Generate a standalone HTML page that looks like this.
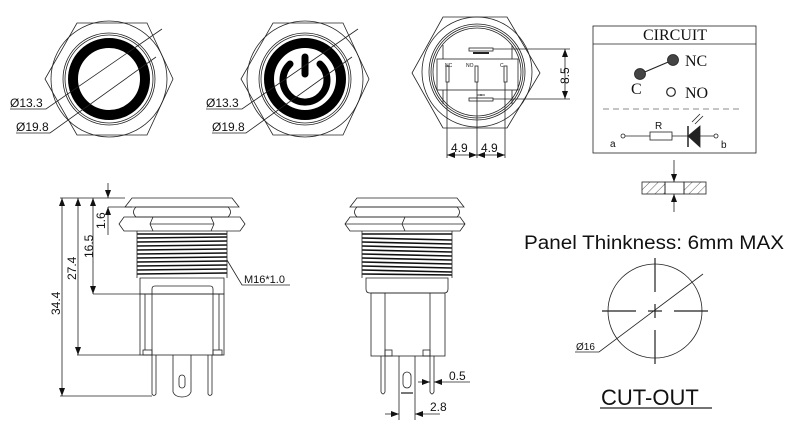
<!DOCTYPE html>
<html><head><style>
html,body{margin:0;padding:0;background:#fff;}
svg{display:block;}
text{font-family:"Liberation Sans",sans-serif;fill:#111;}
.s{font-family:"Liberation Serif",serif;}
</style></head><body>
<svg width="806" height="443" viewBox="0 0 806 443" xmlns="http://www.w3.org/2000/svg">
<defs>
<marker id="ar" markerWidth="8" markerHeight="6" refX="8" refY="3" orient="auto" markerUnits="userSpaceOnUse"><path d="M0,0 L8,3 L0,6 z" fill="#111"/></marker>
<pattern id="hatch" width="6" height="6" patternUnits="userSpaceOnUse" patternTransform="rotate(45)"><line x1="0" y1="0" x2="0" y2="6" stroke="#333" stroke-width="0.8"/></pattern>
</defs>
<g fill="none" stroke="#222" stroke-width="0.8">
<g id="f1">
<polygon points="77,23 147,23 173,79 147,135 77,135 45,79"/>
<circle cx="109" cy="79" r="58"/>
<circle cx="109" cy="79" r="46"/>
<circle cx="109" cy="79" r="44"/>
<circle cx="109" cy="79" r="36" stroke="#000" stroke-width="10"/>
<polyline points="10,109 46,109 162,29"/>
<polyline points="16,133 50,133 156,57"/>
</g>
<text x="10" y="107" font-size="12" stroke="none">Ø13.3</text>
<text x="16" y="131" font-size="12" stroke="none">Ø19.8</text>
<g transform="translate(196,0)">
<polygon points="77,23 147,23 173,79 147,135 77,135 45,79"/>
<circle cx="109" cy="79" r="58"/>
<circle cx="109" cy="79" r="46"/>
<circle cx="109" cy="79" r="44"/>
<circle cx="109" cy="79" r="36" stroke="#000" stroke-width="10"/>
<path d="M94,64 A22,22 0 1 0 124,64" stroke="#000" stroke-width="7" stroke-linecap="round"/>
<line x1="109" y1="57" x2="109" y2="74" stroke="#000" stroke-width="7" stroke-linecap="round"/>
<polyline points="10,109 46,109 162,29"/>
<polyline points="16,133 50,133 156,57"/>
</g>
<text x="206" y="107" font-size="12" stroke="none">Ø13.3</text>
<text x="212" y="131" font-size="12" stroke="none">Ø19.8</text>
<polygon points="443,17 507,17 540,73 507,128 443,128 412,73"/>
<circle cx="477" cy="72" r="55"/>
<circle cx="477" cy="72" r="48"/>
<circle cx="477" cy="72" r="46"/>
<circle cx="477" cy="72" r="44"/>
<rect x="437" y="59" width="81" height="31"/>
<line x1="443" y1="45" x2="443" y2="59"/><line x1="512" y1="45" x2="512" y2="59"/>
<line x1="443" y1="90" x2="443" y2="104"/><line x1="512" y1="90" x2="512" y2="104"/>
<rect x="469" y="48" width="24" height="3"/>
<rect x="469" y="98" width="24" height="3"/>
<line x1="473" y1="53" x2="489" y2="53" stroke-width="2"/>
<line x1="481" y1="94" x2="481" y2="96"/><line x1="477" y1="95" x2="485" y2="95"/>
<rect x="446" y="66" width="3" height="16"/>
<rect x="475" y="66" width="3" height="16"/>
<rect x="504" y="66" width="3" height="16"/>
<line x1="493" y1="49" x2="570" y2="49"/>
<line x1="493" y1="99" x2="570" y2="99"/>
<line x1="565" y1="74" x2="565" y2="49" marker-end="url(#ar)"/>
<line x1="565" y1="74" x2="565" y2="99" marker-end="url(#ar)"/>
<line x1="447" y1="82" x2="447" y2="158"/>
<line x1="477" y1="82" x2="477" y2="158"/>
<line x1="505" y1="82" x2="505" y2="158"/>
<line x1="462" y1="155" x2="447" y2="155" marker-end="url(#ar)"/>
<line x1="462" y1="155" x2="477" y2="155" marker-end="url(#ar)"/>
<line x1="491" y1="155" x2="477" y2="155" marker-end="url(#ar)"/>
<line x1="491" y1="155" x2="505" y2="155" marker-end="url(#ar)"/>
<rect x="593" y="26" width="163" height="127"/>
<line x1="593" y1="44" x2="756" y2="44"/>
<line x1="640" y1="74" x2="673" y2="60" stroke-width="1.2"/>
<circle cx="640" cy="74" r="5.5" fill="#444"/>
<circle cx="673" cy="60" r="5.5" fill="#444"/>
<circle cx="671" cy="92" r="4.3" stroke-width="1.2"/>
<line x1="603" y1="109" x2="742" y2="109" stroke="#666" stroke-dasharray="6,4"/>
<circle cx="623" cy="136" r="2"/>
<line x1="625" y1="136" x2="650" y2="136"/>
<rect x="650" y="132" width="22" height="8"/>
<line x1="672" y1="136" x2="714" y2="136"/>
<circle cx="716" cy="136" r="2"/>
<line x1="688" y1="126" x2="688" y2="147" stroke-width="1.5"/>
<polygon points="688,136 700,126 700,147" fill="#222"/>
<line x1="692" y1="122" x2="700" y2="114"/><line x1="695" y1="124" x2="703" y2="116"/>
<rect x="642" y="182" width="23" height="12" fill="url(#hatch)"/>
<rect x="665" y="182" width="19" height="12"/>
<rect x="684" y="182" width="22" height="12" fill="url(#hatch)"/>
<line x1="674" y1="160" x2="674" y2="182" marker-end="url(#ar)"/>
<line x1="674" y1="212" x2="674" y2="194" marker-end="url(#ar)"/>
<circle cx="655" cy="311" r="47"/>
<line x1="602" y1="311" x2="636" y2="311" stroke-width="1.2"/>
<line x1="648" y1="311" x2="662" y2="311" stroke-width="1.2"/>
<line x1="674" y1="311" x2="708" y2="311" stroke-width="1.2"/>
<line x1="655" y1="258" x2="655" y2="292" stroke-width="1.2"/>
<line x1="655" y1="304" x2="655" y2="318" stroke-width="1.2"/>
<line x1="655" y1="330" x2="655" y2="364" stroke-width="1.2"/>
<polyline points="575,352 599,352 703,274"/>
<line x1="600" y1="408" x2="712" y2="408" stroke-width="1.2"/>
<path d="M125,207 L132,198 L232,198 L239,207 Z"/>
<path d="M136,207 L228,207 Q233,212 228,217 L136,217 Q131,212 136,207 Z"/>
<path d="M119,224 L124,217 L240,217 L245,224 L240,231 L124,231 Z"/>
<line x1="153" y1="217" x2="150" y2="224"/><line x1="150" y1="224" x2="153" y2="231"/>
<line x1="211" y1="217" x2="214" y2="224"/><line x1="214" y1="224" x2="211" y2="231"/>
<line x1="150" y1="224" x2="214" y2="224"/>
<g stroke-width="1.6" stroke="#111">
<line x1="137" y1="234" x2="227" y2="234"/><line x1="137" y1="238" x2="227" y2="237"/>
<line x1="137" y1="242" x2="227" y2="241"/><line x1="137" y1="246" x2="227" y2="245"/>
<line x1="137" y1="250" x2="227" y2="249"/><line x1="137" y1="254" x2="227" y2="253"/>
<line x1="137" y1="258" x2="227" y2="257"/><line x1="137" y1="262" x2="227" y2="261"/>
<line x1="137" y1="266" x2="227" y2="265"/><line x1="137" y1="270" x2="227" y2="269"/>
<line x1="137" y1="274" x2="227" y2="273"/>
</g>
<line x1="137" y1="231" x2="137" y2="278"/><line x1="227" y1="231" x2="227" y2="278"/>
<path d="M140,278 L224,278 L224,294 L140,294 Z"/>
<rect x="140" y="294" width="84" height="61"/>
<path d="M152,355 L152,289 Q152,286 155,286 L210,286 Q213,286 213,289 L213,355"/>
<line x1="145" y1="294" x2="145" y2="350"/><line x1="219" y1="294" x2="219" y2="350"/>
<rect x="143" y="350" width="9" height="5"/><rect x="213" y="350" width="9" height="5"/>
<path d="M152,355 L152,394 Q154,397 156,394 L156,355"/>
<path d="M208,355 L208,394 Q210,397 212,394 L212,355"/>
<path d="M173,355 L173,392 Q175,397 182,397 Q189,397 191,392 L191,355"/>
<rect x="179" y="375" width="6" height="13" rx="3"/>
<line x1="60" y1="198" x2="125" y2="198"/>
<line x1="60" y1="396" x2="152" y2="396"/>
<line x1="77" y1="355" x2="140" y2="355"/>
<line x1="93" y1="294" x2="140" y2="294"/>
<line x1="108" y1="207" x2="132" y2="207"/>
<line x1="62" y1="297" x2="62" y2="198" marker-end="url(#ar)"/>
<line x1="62" y1="297" x2="62" y2="396" marker-end="url(#ar)"/>
<line x1="78" y1="276" x2="78" y2="198" marker-end="url(#ar)"/>
<line x1="78" y1="276" x2="78" y2="355" marker-end="url(#ar)"/>
<line x1="93" y1="246" x2="93" y2="198" marker-end="url(#ar)"/>
<line x1="93" y1="246" x2="93" y2="294" marker-end="url(#ar)"/>
<line x1="108" y1="183" x2="108" y2="198" marker-end="url(#ar)"/>
<line x1="108" y1="235" x2="108" y2="207" marker-end="url(#ar)"/>
<polyline points="227,260 242,285 290,285"/>
<path d="M350,207 L357,198 L457,198 L464,207 Z"/>
<path d="M357,207 L457,207 Q462,212 457,217 L357,217 Q352,212 357,207 Z"/>
<path d="M345,224 L350,217 L460,217 L465,224 L460,231 L350,231 Z"/>
<line x1="405" y1="217" x2="402" y2="224"/><line x1="402" y1="224" x2="405" y2="231"/>
<line x1="345" y1="224" x2="465" y2="224"/>
<g stroke-width="1.6" stroke="#111">
<line x1="362" y1="234" x2="452" y2="234"/><line x1="362" y1="238" x2="452" y2="240"/>
<line x1="362" y1="242" x2="452" y2="244"/><line x1="362" y1="246" x2="452" y2="248"/>
<line x1="362" y1="250" x2="452" y2="252"/><line x1="362" y1="254" x2="452" y2="256"/>
<line x1="362" y1="258" x2="452" y2="260"/><line x1="362" y1="262" x2="452" y2="264"/>
<line x1="362" y1="266" x2="452" y2="268"/><line x1="362" y1="270" x2="452" y2="272"/>
<line x1="362" y1="274" x2="452" y2="275"/>
</g>
<line x1="362" y1="231" x2="362" y2="278"/><line x1="452" y1="231" x2="452" y2="278"/>
<path d="M366,278 L448,278 L448,289 Q448,293 444,293 L370,293 Q366,293 366,289 Z"/>
<rect x="371" y="293" width="74" height="63"/>
<line x1="385" y1="293" x2="385" y2="356"/><line x1="430" y1="293" x2="430" y2="356"/>
<rect x="385" y="350" width="7" height="6"/><rect x="423" y="350" width="7" height="6"/>
<path d="M381,356 L381,392 Q383,396 385,392 L385,356"/>
<path d="M430,356 L430,392 Q432,396 434,392 L434,356"/>
<path d="M399,356 L399,420 M415,356 L415,420"/>
<path d="M401,393 L413,393" stroke-width="2" stroke="#777"/>
<rect x="403" y="372" width="8" height="16" rx="4"/>
<line x1="418" y1="382" x2="430" y2="382" marker-end="url(#ar)"/>
<line x1="470" y1="382" x2="434" y2="382" marker-end="url(#ar)"/>
<line x1="385" y1="414" x2="399" y2="414" marker-end="url(#ar)"/>
<line x1="440" y1="414" x2="415" y2="414" marker-end="url(#ar)"/>
</g>
<text transform="translate(569,84) rotate(-90)" font-size="12">8.5</text>
<text x="451" y="152" font-size="12">4.9</text>
<text x="481" y="152" font-size="12">4.9</text>
<text x="445" y="67" font-size="5">NC</text>
<text x="466" y="67" font-size="5">NO</text>
<text x="500" y="67" font-size="5">C</text>
<text class="s" x="675" y="40" font-size="16" text-anchor="middle">CIRCUIT</text>
<text class="s" x="685" y="66" font-size="16">NC</text>
<text class="s" x="631" y="94" font-size="16">C</text>
<text class="s" x="685" y="98" font-size="16">NO</text>
<text x="655" y="129" font-size="10">R</text>
<text x="610" y="147" font-size="10">a</text>
<text x="721" y="148" font-size="10">b</text>
<text x="524" y="249" font-size="19" textLength="260" lengthAdjust="spacingAndGlyphs">Panel Thinkness: 6mm MAX</text>
<text x="576" y="350" font-size="10">Ø16</text>
<text x="601" y="405" font-size="22">CUT-OUT</text>
<text x="244" y="283" font-size="11">M16*1.0</text>
<text transform="translate(60,315) rotate(-90)" font-size="12">34.4</text>
<text transform="translate(76,280) rotate(-90)" font-size="12">27.4</text>
<text transform="translate(93,258) rotate(-90)" font-size="12">16.5</text>
<text transform="translate(105,229) rotate(-90)" font-size="12">1.6</text>
<text x="449" y="380" font-size="12">0.5</text>
<text x="430" y="411" font-size="12">2.8</text>
</svg>
</body></html>
